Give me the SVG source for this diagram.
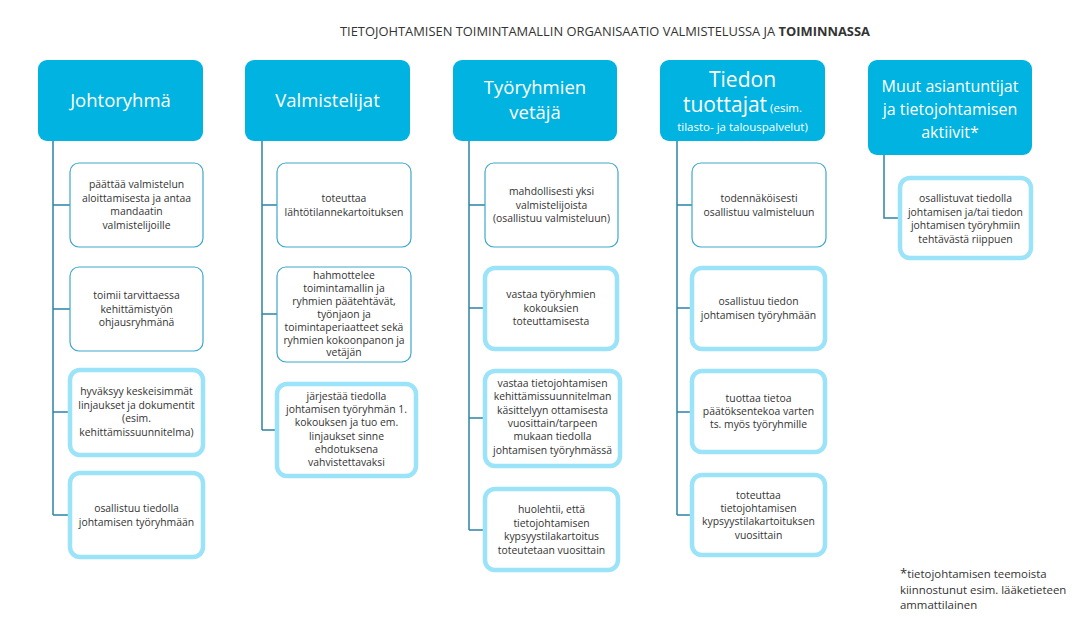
<svg xmlns="http://www.w3.org/2000/svg" width="1091" height="619" viewBox="0 0 1091 619">
<style>
.hdr{fill:#00B3E0;}
.thin{fill:#fff;stroke:#3EA8CC;stroke-width:1.2;}
.thick{fill:#fff;stroke:#9BE3F8;stroke-width:4.5;}
.conn{fill:none;stroke:#2C84A6;stroke-width:1.5;}
text{font-family:"Open Sans","Noto Sans","DejaVu Sans",sans-serif;}
.ht{fill:#fff;font-size:18.5px;text-anchor:middle;}
.big{font-size:21px;}
.sm{font-size:11.5px;}
.mu{font-size:16px;}
.bt{fill:#333;font-size:10.4px;text-anchor:middle;}
.title{fill:#333;font-size:12.9px;}
.fn{fill:#333;font-size:11.4px;}
</style>
<rect width="1091" height="619" fill="#fff"/>
<text class="title" x="340" y="36">TIETOJOHTAMISEN TOIMINTAMALLIN ORGANISAATIO VALMISTELUSSA JA <tspan font-weight="bold">TOIMINNASSA</tspan></text>

<g id="connectors">
<path class="conn" d="M53,141 V515 M53,205 H70 M53,309 H70 M53,412 H68 M53,515 H68"/>
<path class="conn" d="M262,141 V430 M262,205 H277 M262,314 H277 M262,430 H275"/>
<path class="conn" d="M469,141 V530 M469,205 H485 M469,308 H483 M469,418 H483 M469,530 H483"/>
<path class="conn" d="M677,141 V515 M677,205 H692 M677,308 H690 M677,412 H690 M677,515 H690"/>
<path class="conn" d="M884,155 V218 H898"/>
</g>

<g id="h-johtoryhma"><rect class="hdr" x="38" y="60" width="165" height="81" rx="9"/><text class="ht" x="120.5" y="107">Johtoryhmä</text></g>
<g id="h-valmistelijat"><rect class="hdr" x="245" y="60" width="165" height="81" rx="9"/><text class="ht" x="327.5" y="107">Valmistelijat</text></g>
<g id="h-tyoryhmien"><rect class="hdr" x="453" y="60" width="164" height="81" rx="9"/><text class="ht" x="535" y="94">Työryhmien</text><text class="ht" x="535" y="119">vetäjä</text></g>
<g id="h-tiedon"><rect class="hdr" x="660" y="60" width="165" height="81" rx="9"/><text class="ht big" x="742.5" y="87">Tiedon</text><text class="ht" x="742.5" y="112"><tspan class="big">tuottajat</tspan><tspan class="sm"> (esim.</tspan></text><text class="ht sm" x="742.5" y="131">tilasto- ja talouspalvelut)</text></g>
<g id="h-muut"><rect class="hdr" x="868" y="60" width="164" height="95" rx="9"/><text class="ht mu" x="950" y="92">Muut asiantuntijat</text><text class="ht mu" x="950" y="115">ja tietojohtamisen</text><text class="ht mu" x="950" y="138">aktiivit*</text></g>

<g id="j1"><rect class="thin" x="70" y="163" width="133" height="84" rx="9"/><text class="bt" x="136.5" y="188">päättää valmistelun<tspan x="136.5" dy="13.7">aloittamisesta ja antaa</tspan><tspan x="136.5" dy="13.7">mandaatin</tspan><tspan x="136.5" dy="13.7">valmistelijoille</tspan></text></g>
<g id="j2"><rect class="thin" x="70" y="267" width="133" height="84" rx="9"/><text class="bt" x="136.5" y="299">toimii tarvittaessa<tspan x="136.5" dy="13.7">kehittämistyön</tspan><tspan x="136.5" dy="13.7">ohjausryhmänä</tspan></text></g>
<g id="j3"><rect class="thick" x="70" y="370" width="133" height="85" rx="10"/><text class="bt" x="136.5" y="395">hyväksyy keskeisimmät<tspan x="136.5" dy="13.7">linjaukset ja dokumentit</tspan><tspan x="136.5" dy="13.7">(esim.</tspan><tspan x="136.5" dy="13.7">kehittämissuunnitelma)</tspan></text></g>
<g id="j4"><rect class="thick" x="70" y="473" width="133" height="84" rx="10"/><text class="bt" x="136.5" y="512">osallistuu tiedolla<tspan x="136.5" dy="13.7">johtamisen työryhmään</tspan></text></g>

<g id="v1"><rect class="thin" x="277" y="163" width="134" height="84" rx="9"/><text class="bt" x="344" y="202">toteuttaa<tspan x="344" dy="13.7">lähtötilannekartoituksen</tspan></text></g>
<g id="v2"><rect class="thin" x="277" y="267" width="134" height="95" rx="9"/><text class="bt" x="344" y="279">hahmottelee<tspan x="344" dy="12.9">toimintamallin ja</tspan><tspan x="344" dy="12.9">ryhmien päätehtävät,</tspan><tspan x="344" dy="12.9">työnjaon ja</tspan><tspan x="344" dy="12.9">toimintaperiaatteet sekä</tspan><tspan x="344" dy="12.9">ryhmien kokoonpanon ja</tspan><tspan x="344" dy="12.9">vetäjän</tspan></text></g>
<g id="v3"><rect class="thick" x="277" y="384" width="139" height="92" rx="10"/><text class="bt" x="346.5" y="400">järjestää tiedolla<tspan x="346.5" dy="13.2">johtamisen työryhmän 1.</tspan><tspan x="346.5" dy="13.2">kokouksen ja tuo em.</tspan><tspan x="346.5" dy="13.2">linjaukset sinne</tspan><tspan x="346.5" dy="13.2">ehdotuksena</tspan><tspan x="346.5" dy="13.2">vahvistettavaksi</tspan></text></g>

<g id="t1"><rect class="thin" x="485" y="163" width="133" height="84" rx="9"/><text class="bt" x="551.5" y="195">mahdollisesti yksi<tspan x="551.5" dy="13.7">valmistelijoista</tspan><tspan x="551.5" dy="13.7">(osallistuu valmisteluun)</tspan></text></g>
<g id="t2"><rect class="thick" x="485" y="268" width="132" height="81" rx="10"/><text class="bt" x="551" y="298">vastaa työryhmien<tspan x="551" dy="13.7">kokouksien</tspan><tspan x="551" dy="13.7">toteuttamisesta</tspan></text></g>
<g id="t3"><rect class="thick" x="485" y="371" width="135" height="95" rx="10"/><text class="bt" x="552.5" y="387">vastaa tietojohtamisen<tspan x="552.5" dy="13.3">kehittämissuunnitelman</tspan><tspan x="552.5" dy="13.3">käsittelyyn ottamisesta</tspan><tspan x="552.5" dy="13.3">vuosittain/tarpeen</tspan><tspan x="552.5" dy="13.3">mukaan tiedolla</tspan><tspan x="552.5" dy="13.3">johtamisen työryhmässä</tspan></text></g>
<g id="t4"><rect class="thick" x="485" y="489" width="133" height="81" rx="10"/><text class="bt" x="551.5" y="513">huolehtii, että<tspan x="551.5" dy="13.5">tietojohtamisen</tspan><tspan x="551.5" dy="13.5">kypsyystilakartoitus</tspan><tspan x="551.5" dy="13.5">toteutetaan vuosittain</tspan></text></g>

<g id="d1"><rect class="thin" x="692" y="163" width="134" height="84" rx="9"/><text class="bt" x="759" y="202">todennäköisesti<tspan x="759" dy="13.7">osallistuu valmisteluun</tspan></text></g>
<g id="d2"><rect class="thick" x="692" y="268" width="133" height="81" rx="10"/><text class="bt" x="758.5" y="305">osallistuu tiedon<tspan x="758.5" dy="13.7">johtamisen työryhmään</tspan></text></g>
<g id="d3"><rect class="thick" x="692" y="371" width="133" height="81" rx="10"/><text class="bt" x="758.5" y="402">tuottaa tietoa<tspan x="758.5" dy="13.2">päätöksentekoa varten</tspan><tspan x="758.5" dy="13.2">ts. myös työryhmille</tspan></text></g>
<g id="d4"><rect class="thick" x="692" y="475" width="133" height="80" rx="10"/><text class="bt" x="758.5" y="499">toteuttaa<tspan x="758.5" dy="13.2">tietojohtamisen</tspan><tspan x="758.5" dy="13.2">kypsyystilakartoituksen</tspan><tspan x="758.5" dy="13.2">vuosittain</tspan></text></g>

<g id="m1"><rect class="thick" x="900" y="178" width="131" height="80" rx="10"/><text class="bt" x="965.5" y="202">osallistuvat tiedolla<tspan x="965.5" dy="13.5">johtamisen ja/tai tiedon</tspan><tspan x="965.5" dy="13.5">johtamisen työryhmiin</tspan><tspan x="965.5" dy="13.5">tehtävästä riippuen</tspan></text></g>

<g id="footnote"><text class="fn" x="900" y="578"><tspan style="font-size:13px">*</tspan>tietojohtamisen teemoista<tspan x="900" dy="15.5">kiinnostunut esim. lääketieteen</tspan><tspan x="900" dy="15.5">ammattilainen</tspan></text></g>
</svg>
